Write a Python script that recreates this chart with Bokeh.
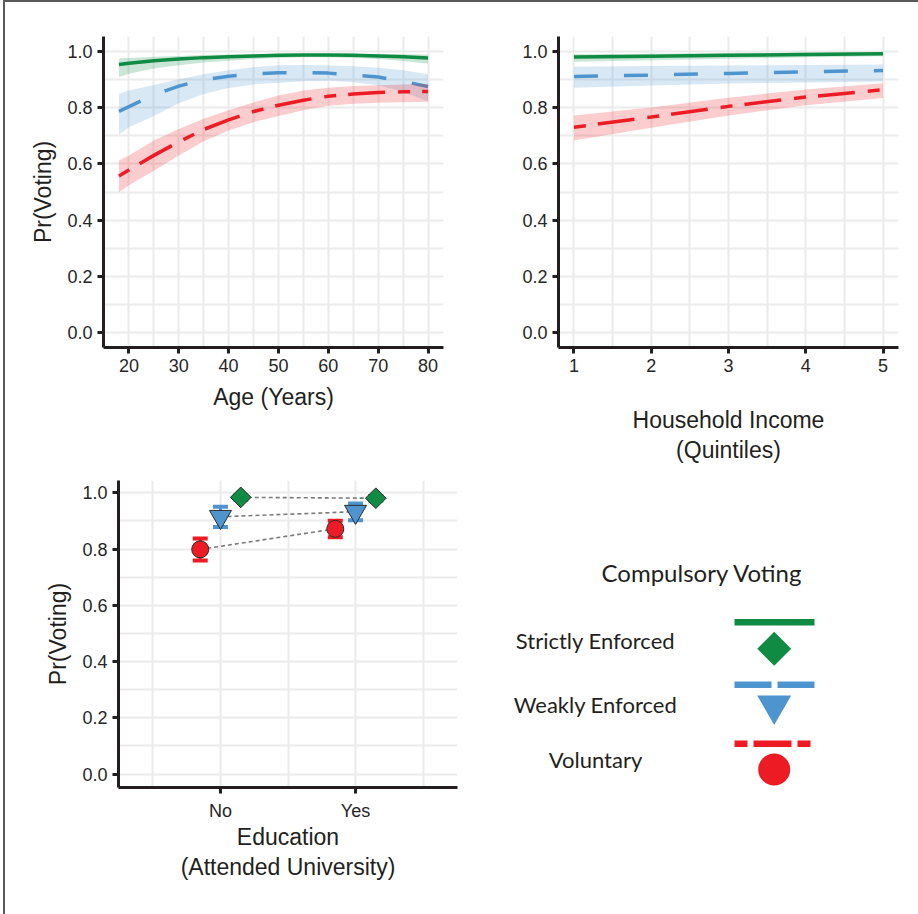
from bokeh.plotting import figure
from bokeh.layouts import column, row
from bokeh.models import Range1d, FixedTicker, PrintfTickFormatter
from bokeh.embed import file_html
from bokeh.resources import INLINE
from bokeh.core.properties import value

GREEN = "#0F8B43"
BLUE = "#4E95D0"
RED = "#ED1C24"
AXC = "#231F20"
GRIDC = "#EBEBEB"
SANS = "'Liberation Sans'"

# ---------------- Panel 1: Age ----------------
age = [18, 20, 25, 30, 35, 40, 45, 50, 55, 60, 65, 70, 75, 80]
age_vol = [0.557, 0.578, 0.630, 0.678, 0.722, 0.756, 0.786, 0.808, 0.826, 0.840, 0.848, 0.853, 0.856, 0.857]
age_vol_hi = [0.612, 0.630, 0.683, 0.724, 0.760, 0.790, 0.818, 0.843, 0.860, 0.870, 0.876, 0.879, 0.882, 0.884]
age_vol_lo = [0.499, 0.524, 0.575, 0.630, 0.680, 0.718, 0.748, 0.770, 0.790, 0.806, 0.813, 0.817, 0.819, 0.820]
age_weak = [0.786, 0.803, 0.845, 0.876, 0.898, 0.911, 0.919, 0.923, 0.924, 0.922, 0.916, 0.908, 0.893, 0.874]
age_weak_hi = [0.849, 0.860, 0.880, 0.900, 0.918, 0.932, 0.943, 0.950, 0.951, 0.949, 0.946, 0.941, 0.932, 0.918]
age_weak_lo = [0.704, 0.730, 0.770, 0.815, 0.848, 0.869, 0.882, 0.888, 0.893, 0.895, 0.890, 0.879, 0.856, 0.822]
age_strict = [0.953, 0.957, 0.966, 0.972, 0.977, 0.980, 0.983, 0.985, 0.986, 0.986, 0.985, 0.983, 0.980, 0.976]
age_strict_hi = [0.975, 0.976, 0.980, 0.983, 0.986, 0.988, 0.989, 0.990, 0.991, 0.991, 0.991, 0.990, 0.989, 0.988]
age_strict_lo = [0.908, 0.920, 0.938, 0.950, 0.960, 0.966, 0.972, 0.976, 0.978, 0.978, 0.976, 0.972, 0.965, 0.955]
age_ticks = [20, 30, 40, 50, 60, 70, 80]
age_minor = [15, 25, 35, 45, 55, 65, 75]

# ---------------- Panel 2: Income ----------------
inc = [1, 2, 3, 4, 5]
inc_vol = [0.730, 0.766, 0.804, 0.837, 0.863]
inc_vol_hi = [0.772, 0.800, 0.835, 0.864, 0.886]
inc_vol_lo = [0.683, 0.728, 0.772, 0.808, 0.834]
inc_weak = [0.910, 0.915, 0.921, 0.927, 0.931]
inc_weak_hi = [0.945, 0.947, 0.949, 0.951, 0.953]
inc_weak_lo = [0.870, 0.878, 0.885, 0.889, 0.892]
inc_strict = [0.979, 0.982, 0.985, 0.988, 0.991]
inc_strict_hi = [0.989, 0.991, 0.993, 0.995, 0.996]
inc_strict_lo = [0.962, 0.968, 0.973, 0.978, 0.982]
inc_ticks = [1, 2, 3, 4, 5]
inc_minor = [1.5, 2.5, 3.5, 4.5]

# ---------------- Panel 3: Education ----------------
edu = [1, 2]
edu_labels = {1: "No", 2: "Yes"}
edu_vol = [0.799, 0.872]
edu_vol_lo = [0.759, 0.842]
edu_vol_hi = [0.838, 0.901]
edu_weak = [0.915, 0.933]
edu_weak_lo = [0.879, 0.903]
edu_weak_hi = [0.951, 0.962]
edu_strict = [0.984, 0.981]
edu_strict_lo = [0.976, 0.973]
edu_strict_hi = [0.991, 0.989]
DODGE = 0.15

y_ticks = [0.0, 0.2, 0.4, 0.6, 0.8, 1.0]
y_minor = [0.1, 0.3, 0.5, 0.7, 0.9]

legend_title = "Compulsory Voting"
legend_labels = ["Strictly Enforced", "Weakly Enforced", "Voluntary"]

DASH_WEAK = "24 26"
DASH_VOL = "12 12 37 13"


def make_panel(width, height, xr, yr, borders, xticks, xminor, xlabel, ylabel, xl_standoff):
    l, r, t, b = borders
    p = figure(width=width, height=height, x_range=Range1d(*xr), y_range=Range1d(*yr),
               output_backend="svg", toolbar_location=None,
               min_border_left=l, min_border_right=r, min_border_top=t, min_border_bottom=b)
    p.outline_line_color = None
    p.background_fill_color = "white"
    p.border_fill_color = "white"
    xt = FixedTicker(ticks=xticks, minor_ticks=xminor)
    yt = FixedTicker(ticks=y_ticks, minor_ticks=y_minor)
    p.xaxis.ticker = xt
    p.yaxis.ticker = yt
    p.xgrid.ticker = xt
    p.ygrid.ticker = yt
    p.yaxis.formatter = PrintfTickFormatter(format="%.1f")
    for g in (p.xgrid[0], p.ygrid[0]):
        g.grid_line_color = GRIDC
        g.grid_line_width = 2
        g.minor_grid_line_color = GRIDC
        g.minor_grid_line_width = 2
    for ax in (p.xaxis[0], p.yaxis[0]):
        ax.axis_line_color = AXC
        ax.axis_line_width = 3
        ax.major_tick_line_color = AXC
        ax.major_tick_line_width = 3
        ax.major_tick_out = 6
        ax.major_tick_in = 0
        ax.minor_tick_line_color = None
        ax.major_label_text_font = SANS
        ax.major_label_text_font_size = "18px"
        ax.major_label_text_color = "#262626"
        ax.axis_label_text_font = SANS
        ax.axis_label_text_font_size = "23px"
        ax.axis_label_text_font_style = "normal"
        ax.axis_label_text_color = AXC
        ax.major_label_standoff = 5
    p.xaxis.axis_label = xlabel
    p.xaxis.axis_label_standoff = xl_standoff
    p.xaxis.axis_label_text_line_height = 1.16
    if ylabel:
        p.yaxis.axis_label = ylabel
        p.yaxis.axis_label_standoff = 8
    return p


def draw_curves(p, x, series):
    for mid, lo, hi, color, dash in series:
        p.varea(x=x, y1=lo, y2=hi, fill_color=color, fill_alpha=0.22)
        p.line(x=x, y=mid, line_color=color, line_width=3.5, line_dash=dash)


# Top-left: age
p1 = make_panel(454, 476, (14.9, 83.1), (-0.052, 1.052), (98, 16, 34, 131),
                age_ticks, age_minor, "Age (Years)", "Pr(Voting)", 9)
draw_curves(p1, age, [
    (age_weak, age_weak_lo, age_weak_hi, BLUE, DASH_WEAK),
    (age_vol, age_vol_lo, age_vol_hi, RED, DASH_VOL),
    (age_strict, age_strict_lo, age_strict_hi, GREEN, "solid"),
])

# Top-right: income
p2 = make_panel(459, 476, (0.8, 5.2), (-0.052, 1.052), (99, 20, 34, 131),
                inc_ticks, inc_minor, "Household Income\n(Quintiles)", None, 32)
draw_curves(p2, inc, [
    (inc_weak, inc_weak_lo, inc_weak_hi, BLUE, DASH_WEAK),
    (inc_vol, inc_vol_lo, inc_vol_hi, RED, DASH_VOL),
    (inc_strict, inc_strict_lo, inc_strict_hi, GREEN, "solid"),
])

# Bottom-left: education
p3 = make_panel(454, 436, (0.245, 2.755), (-0.048, 1.044), (113, 2, 2, 127),
                edu, [0.5, 1.5, 2.5], "Education\n(Attended University)", "Pr(Voting)", 0)
p3.xaxis.major_label_overrides = edu_labels
p3.xaxis.major_label_standoff = 7

groups = [
    (edu_vol, edu_vol_lo, edu_vol_hi, RED, -DODGE, "circle", 17, 0.0),
    (edu_weak, edu_weak_lo, edu_weak_hi, BLUE, 0.0, "inverted_triangle", 22, 0.0),
    (edu_strict, edu_strict_lo, edu_strict_hi, GREEN, DODGE, "square", 14.6, 0.785398),
]
for mid, lo, hi, color, off, mk, sz, ang in groups:
    xs = [e + off for e in edu]
    p3.line(x=xs, y=mid, line_color="#7A7A7A", line_width=1.6, line_dash="4 3")
for mid, lo, hi, color, off, mk, sz, ang in groups:
    xs = [e + off for e in edu]
    p3.segment(x0=xs, y0=lo, x1=xs, y1=hi, line_color=color, line_width=3)
    p3.scatter(x=xs, y=lo, marker="dash", size=15, line_color=color, line_width=4)
    p3.scatter(x=xs, y=hi, marker="dash", size=15, line_color=color, line_width=4)
for mid, lo, hi, color, off, mk, sz, ang in groups:
    xs = [e + off for e in edu]
    p3.scatter(x=xs, y=mid, marker=mk, size=sz, angle=ang, fill_color=color,
               line_color="#2B2B2B", line_width=1)

# Bottom-right: legend (frame mapped to page pixel coordinates)
p4 = figure(width=459, height=436, x_range=Range1d(459, 918), y_range=Range1d(787, 480),
            x_axis_type=None, y_axis_type=None, output_backend="svg", toolbar_location=None,
            min_border_left=0, min_border_right=0, min_border_top=2, min_border_bottom=127)
p4.outline_line_color = None
p4.background_fill_color = "white"
p4.border_fill_color = "white"
FONT = value("Lato")
p4.text(x=[701.7], y=[572.3], text=[legend_title], text_align="center", text_baseline="middle",
        text_font=FONT, text_font_size="24px", text_color=AXC)
p4.text(x=[595, 595, 595], y=[640, 704.3, 759], text=legend_labels, text_align="center",
        text_baseline="middle", text_font=FONT, text_font_size="22px", text_color=AXC)
key_x0, key_x1, mk_x = 734, 814, 773.7
p4.line(x=[key_x0, key_x1], y=[621.7, 621.7], line_color=GREEN, line_width=6.5)
p4.line(x=[key_x0, key_x1], y=[684.3, 684.3], line_color=BLUE, line_width=6.5, line_dash="37 6")
p4.line(x=[key_x0, key_x1], y=[743.3, 743.3], line_color=RED, line_width=6.5, line_dash="13 6 38 6")
p4.scatter(x=[mk_x], y=[648.3], marker="square", size=24, angle=0.785398, fill_color=GREEN, line_color=None)
p4.scatter(x=[mk_x], y=[704.8], marker="inverted_triangle", size=34, fill_color=BLUE, line_color=None)
p4.scatter(x=[mk_x], y=[769], marker="circle", size=32, fill_color=RED, line_color=None)

root = column(row(p1, p2), row(p3, p4))
root.styles = {"border-top": "2px solid #5A5A5A", "border-left": "2px solid #5A5A5A",
               "margin-left": "3px"}

open("out.html", "w").write(file_html(root, INLINE))
